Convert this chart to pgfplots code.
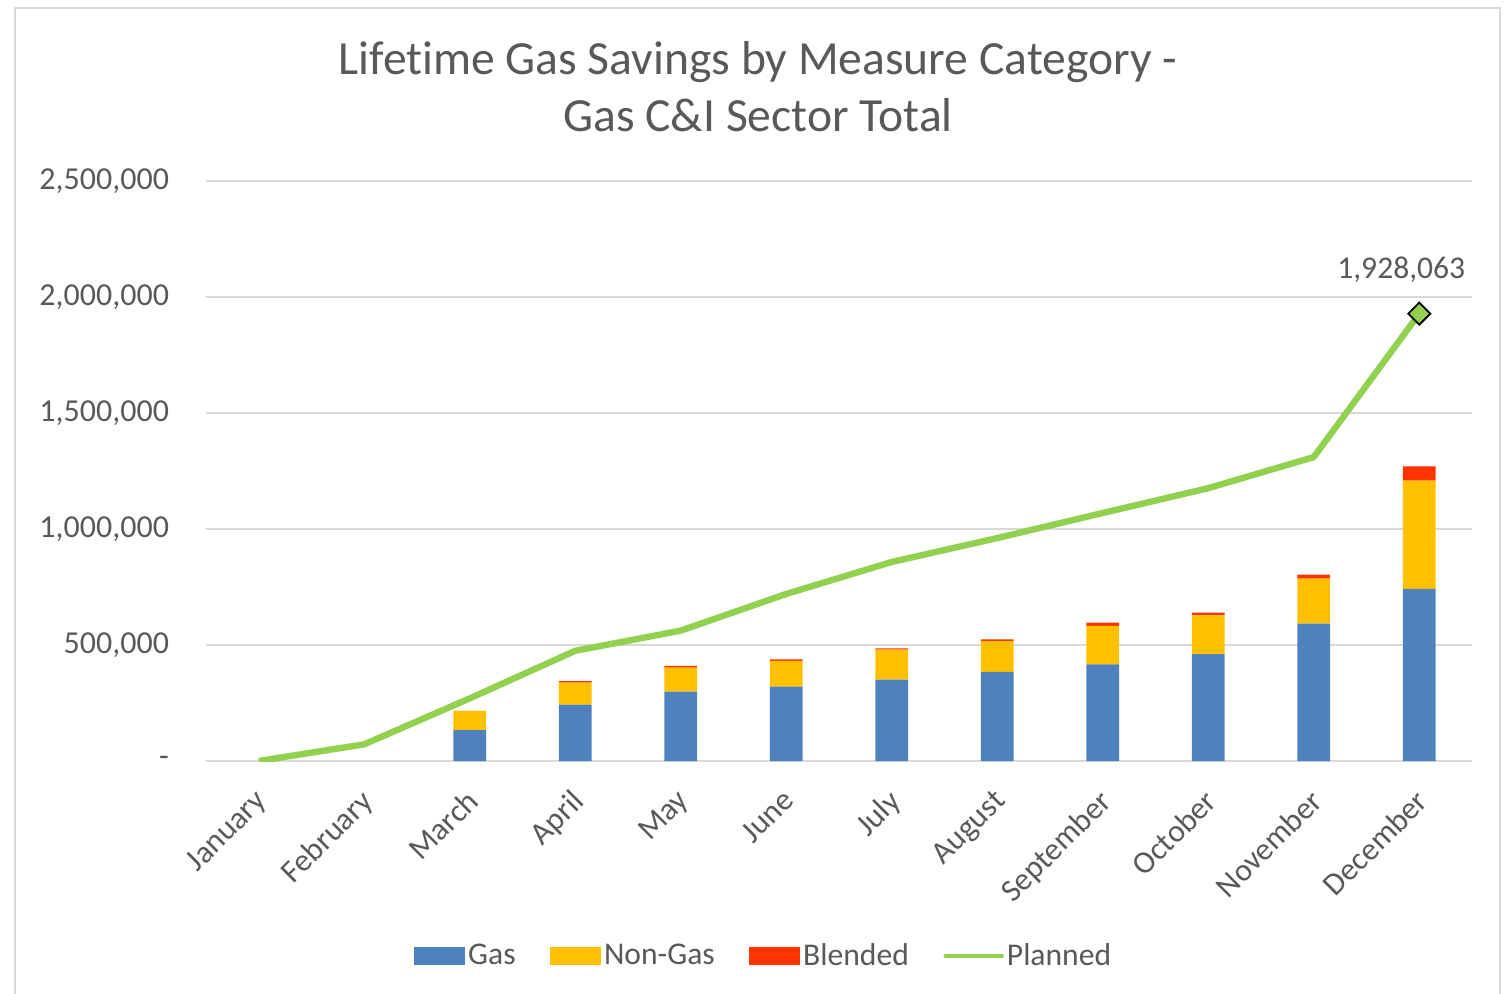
\documentclass[border=0pt]{standalone}
\usepackage{fontspec}
\setmainfont{Carlito}[Ligatures=NoCommon]
\usepackage{pgfplots}
\pgfplotsset{compat=1.18}
\definecolor{gasblue}{HTML}{4F81BD}
\definecolor{nongas}{HTML}{FFC000}
\definecolor{blended}{HTML}{FF3300}
\definecolor{planned}{HTML}{92D050}
\definecolor{txt}{HTML}{595959}
\definecolor{gridc}{HTML}{D9D9D9}
\pgfplotsset{
  base/.style={
    at={(103pt,116pt)}, anchor=south west,
    scale only axis, width=633pt, height=290pt,
    xmin=-0.5, xmax=11.5, ymin=0, ymax=2500000,
  }
}
\begin{document}
\begin{tikzpicture}
\useasboundingbox (0,0) rectangle (753pt,496.5pt);
\draw[gridc, line width=0.75pt] (7.5pt,-5pt) -- (7.5pt,492.5pt) -- (750pt,492.5pt) -- (750pt,-5pt);
\node[align=center, text=txt, font=\fontsize{23.8}{28.5}\selectfont] at (379pt,453pt) {Lifetime Gas Savings by Measure Category -\\Gas C\&I Sector Total};
\begin{axis}[base,
  ybar stacked, bar width=0.31,
  axis line style={draw=none},
  ymajorgrids, grid style={gridc, line width=0.75pt},
  major tick length=0,
  xtick={0,...,11},
  xticklabels={January,February,March,April,May,June,July,August,September,October,November,December},
  xticklabel style={rotate=45, anchor=north east, text=txt, font=\fontsize{15.8}{19}\selectfont, xshift=-7.8pt, yshift=-4.2pt},
  ytick={0,500000,1000000,1500000,2000000,2500000},
  yticklabels={{-\hspace{7pt}},{500,000},{1,000,000},{1,500,000},{2,000,000},{2,500,000}},
  scaled y ticks=false,
  yticklabel style={text=txt, font=\fontsize{16}{19}\selectfont, xshift=-15pt},
]
\addplot[fill=gasblue, draw=none] coordinates {(2,133000) (3,243000) (4,299000) (5,321000) (6,351000) (7,384000) (8,417000) (9,461000) (10,592000) (11,742000)};
\addplot[fill=nongas, draw=none] coordinates {(2,82000) (3,95000) (4,104000) (5,111000) (6,129000) (7,133000) (8,165000) (9,167000) (10,194000) (11,467000)};
\addplot[fill=blended, draw=none] coordinates {(2,1000) (3,6000) (4,7000) (5,6000) (6,5000) (7,7000) (8,15000) (9,12000) (10,17000) (11,61000)};
\end{axis}
\begin{axis}[base,
  hide axis,
  legend style={at={(0.441,-0.336)}, anchor=center, draw=none, legend columns=-1,
    font=\fontsize{15.8}{19}\selectfont, text=txt,
    nodes={inner sep=1.5pt},
    /tikz/every even column/.append style={column sep=15.8pt}},
]
\addlegendimage{legend image code/.code={\fill[gasblue] (0pt,-4.25pt) rectangle (25pt,4.25pt);}}
\addlegendentry{Gas}
\addlegendimage{legend image code/.code={\fill[nongas] (0pt,-4.25pt) rectangle (25pt,4.25pt);}}
\addlegendentry{Non-Gas}
\addlegendimage{legend image code/.code={\fill[blended] (0pt,-4.25pt) rectangle (25pt,4.25pt);}}
\addlegendentry{Blended}
\addplot[planned, line width=3.2pt, line join=round, legend image code/.code={\draw[planned, line width=2.2pt, line cap=round] (0pt,0pt) -- (28pt,0pt);}] coordinates {(0,0) (1,72000) (2,270000) (3,475000) (4,562000) (5,720000) (6,858000) (7,961000) (8,1069000) (9,1176000) (10,1310000) (11,1928063)};
\addlegendentry{Planned}
\addplot[forget plot, only marks, mark=square*, mark size=3.9pt, mark options={rotate=45, fill=planned, draw=black, line width=0.9pt},
  nodes near coords={1,928,063},
  every node near coord/.style={anchor=south, xshift=-9pt, yshift=12pt, text=txt, font=\fontsize{15.8}{19}\selectfont}] coordinates {(11,1928063)};
\end{axis}
\end{tikzpicture}
\end{document}
